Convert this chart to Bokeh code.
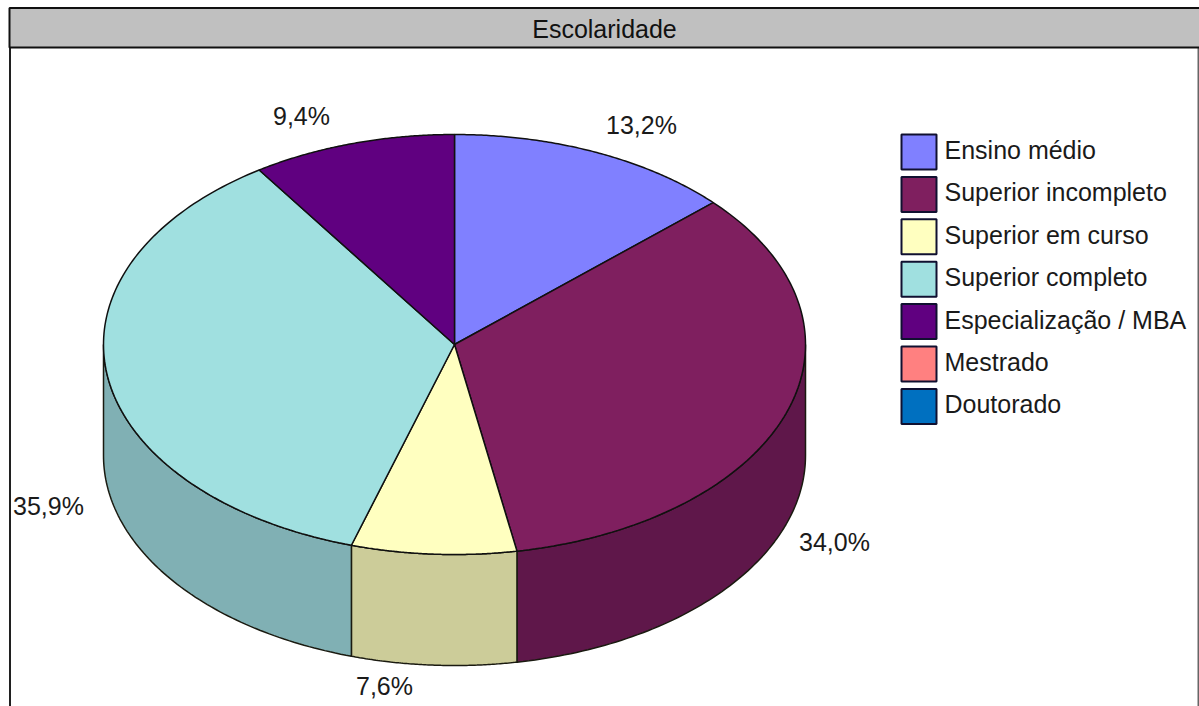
import numpy as np
from bokeh.core.properties import value
from bokeh.embed import file_html
from bokeh.models import Range1d
from bokeh.plotting import figure
from bokeh.resources import INLINE

# Survey results: share of respondents by level of schooling
title_text = "Escolaridade"
categories = ["Ensino médio", "Superior incompleto", "Superior em curso",
              "Superior completo", "Especialização / MBA", "Mestrado", "Doutorado"]
shares = [13.2, 34.0, 7.6, 35.9, 9.4, 0.0, 0.0]
share_labels = ["13,2%", "34,0%", "7,6%", "35,9%", "9,4%"]
top_colors = ["#8080FF", "#7F1F5F", "#FFFFC0", "#A0E0E0", "#600080", "#FF8080", "#0070C0"]
side_colors = ["#6060C0", "#5F174A", "#CCCC99", "#80B0B4", "#480060", "#C06060", "#005490"]

W, H = 1199, 706
FONT = value("Liberation Sans")

# Pie geometry in page pixels
CX, CY, RX, RY, DEPTH = 454, 344, 351, 210, 111
label_pos = [(641, 124), (834, 541), (384, 685), (48, 505), (301, 115)]

p = figure(width=W, height=H, output_backend="svg", toolbar_location=None,
           x_range=Range1d(0, W), y_range=Range1d(H, 0), min_border=0,
           outline_line_color=None, background_fill_color="white",
           border_fill_color="white")
p.axis.visible = False
p.grid.visible = False


def ellipse(angles, drop=0.0):
    """Rim points; angles run clockwise in radians from twelve o'clock."""
    return CX + RX * np.sin(angles), CY - RY * np.cos(angles) + drop


# Panel side rules, open at the bottom, and the title bar
p.segment(x0=[9.5], y0=[47], x1=[9.5], y1=[H], line_color="#202020", line_width=2)
p.segment(x0=[1198], y0=[47], x1=[1198], y1=[H], line_color="#666666", line_width=2)
p.quad(left=[9], right=[W + 4], top=[7.5], bottom=[47], fill_color="#C0C0C0",
       line_color="#101010", line_width=2)
p.text(x=[604], y=[28.5], text=[title_text], text_font=FONT, text_font_size="25px",
       text_align="center", text_baseline="middle", text_color="#111111")

# Wedge boundaries derived from the shares
total = sum(shares)
edges = np.radians(np.concatenate([[0.0], np.cumsum(shares)]) / total * 360.0)

# Front wall: only the part of each wedge facing the viewer (rim below the centre)
for i, (a, b) in enumerate(zip(edges[:-1], edges[1:])):
    lo, hi = max(a, np.pi / 2), min(b, 3 * np.pi / 2)
    if hi <= lo:
        continue
    t = np.linspace(lo, hi, 80)
    x1, y1 = ellipse(t)
    x2, y2 = ellipse(t[::-1], DEPTH)
    p.patch(np.concatenate([x1, x2]), np.concatenate([y1, y2]),
            fill_color=side_colors[i], line_color="#1A1A10", line_width=1.5)

# Top faces
for i, (a, b) in enumerate(zip(edges[:-1], edges[1:])):
    if b <= a:
        continue
    t = np.linspace(a, b, 120)
    x, y = ellipse(t)
    p.patch(np.concatenate([[CX], x]), np.concatenate([[CY], y]),
            fill_color=top_colors[i], line_color="#101010", line_width=1.5)

# Percentage labels
p.text(x=[q[0] for q in label_pos], y=[q[1] for q in label_pos], text=share_labels,
       text_font=FONT, text_font_size="25px", text_align="center",
       text_baseline="middle", text_color="#1A1A1A")

# Legend swatches and captions
rows = 151.5 + 42.4 * np.arange(len(categories))
p.rect(x=[918.5] * len(categories), y=rows, width=35, height=35,
       fill_color=top_colors, line_color="#101030", line_width=2)
p.text(x=[944] * len(categories), y=rows - 2, text=categories, text_font=FONT,
       text_font_size="25px", text_align="left", text_baseline="middle",
       text_color="#1A1A1A")

open("out.html", "w").write(file_html(p, INLINE))
